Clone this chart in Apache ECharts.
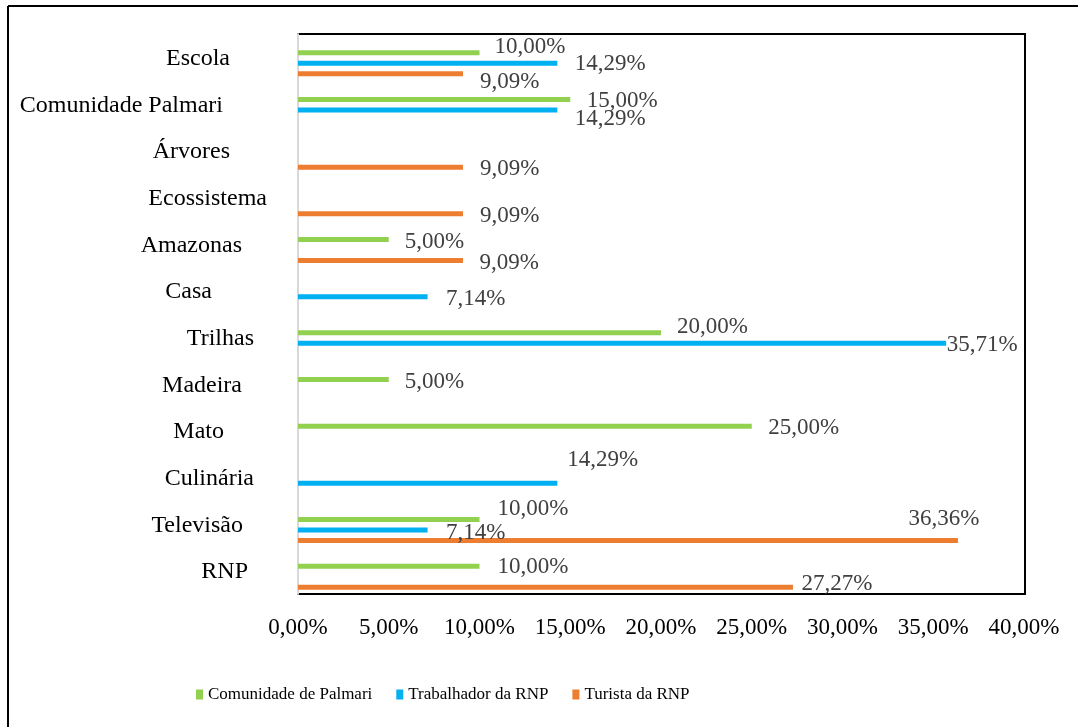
<!DOCTYPE html>
<html><head><meta charset="utf-8">
<script src="https://cdn.jsdelivr.net/npm/echarts@6/dist/echarts.min.js"></script>
<style>html,body{margin:0;padding:0;background:#fff}#c{width:1078px;height:727px}</style>
</head><body><div id="c"></div>
<script>
const categories = ['Escola','Comunidade Palmari','Árvores','Ecossistema','Amazonas','Casa','Trilhas','Madeira','Mato','Culinária','Televisão','RNP'];
const seriesNames = ['Comunidade de Palmari','Trabalhador da RNP','Turista da RNP'];
const comunidade = [10.00, 15.00, null, null, 5.00, null, 20.00, 5.00, 25.00, null, 10.00, 10.00];
const trabalhador = [14.29, 14.29, null, null, null, 7.14, 35.71, null, null, 14.29, 7.14, null];
const turista = [9.09, null, 9.09, 9.09, 9.09, null, null, null, null, null, 36.36, 27.27];
const xTicks = [0,5,10,15,20,25,30,35,40];

// layout only: label offsets [dx, dy] per series per category
const labelOffsets = [
  {0:[10,-6],1:[11.5,1],4:[11,2.5],6:[11,-5.5],7:[11,2.5],8:[11.5,2],10:[13,-11],11:[13,1]},
  {0:[12.5,1],1:[12.5,9],5:[13.5,2.5],6:[-4.5,2],9:[5,-23],10:[13.5,2.5]},
  {0:[12,8],2:[12,1.5],3:[12,2],4:[11.5,2],10:[-54.5,-22],11:[3.5,-3.5]}
];
// layout only: right padding for each category label
const catPad = [37,44,37,0,25,55,13,25,43,13,24,19];
const colors = ['#92d050','#00b0f0','#ed7d31'];
const fmt = v => v.toFixed(2).replace('.', ',') + '%';
const FONT = 'Liberation Serif';

const rich = {};
categories.forEach((c, i) => {
  rich['c' + i] = {fontFamily: FONT, fontSize: 24, color: '#000', padding: [3, catPad[i], 0, 0]};
});

const values = [comunidade, trabalhador, turista];
const series = values.map((arr, si) => ({
  name: seriesNames[si], type: 'bar', xAxisIndex: 0, yAxisIndex: 0,
  barWidth: 5, barGap: '110%', barCategoryGap: '0%',
  itemStyle: {color: colors[si]},
  data: arr.map((v, ci) => {
    if (v === null) return '-';
    const off = labelOffsets[si][ci] || [5, 0];
    return {value: v, label: {offset: off}};
  }),
  label: {show: true, position: 'right', distance: 5, formatter: p => fmt(p.value),
    color: '#404040', fontFamily: FONT, fontSize: 23},
  animation: false
}));

const chart = echarts.init(document.getElementById('c'));
chart.setOption({
  animation: false,
  backgroundColor: '#fff',
  grid: [
    {left: 298, top: 40, width: 726, height: 560},
    {left: 298, top: 34, width: 727, height: 560, show: true, borderColor: '#000', borderWidth: 2, z: 0}
  ],
  xAxis: [
    {gridIndex: 0, type: 'value', min: xTicks[0], max: xTicks[xTicks.length - 1], interval: xTicks[1] - xTicks[0],
     axisLine: {show: false}, axisTick: {show: false}, splitLine: {show: false},
     axisLabel: {formatter: v => fmt(v), fontFamily: FONT, fontSize: 23, color: '#000', margin: 16}},
    {gridIndex: 1, type: 'value', min: 0, max: 40, show: false}
  ],
  yAxis: [
    {gridIndex: 0, type: 'category', data: categories, inverse: true, show: false},
    {gridIndex: 1, type: 'category', data: categories, inverse: true,
     axisLine: {show: true, lineStyle: {color: '#d9d9d9', width: 2}},
     axisTick: {show: false},
     axisLabel: {margin: 31, formatter: (v, i) => '{c' + i + '|' + v + '}', rich: rich}}
  ],
  legend: {
    data: seriesNames, left: 191, top: 681, icon: 'rect', itemWidth: 7, itemHeight: 10, itemGap: 24,
    textStyle: {fontFamily: FONT, fontSize: 17, color: '#000'}
  },
  graphic: [
    {type: 'line', shape: {x1: 8, y1: 6, x2: 1078, y2: 6}, style: {stroke: '#000', lineWidth: 2}},
    {type: 'line', shape: {x1: 8, y1: 6, x2: 8, y2: 727}, style: {stroke: '#000', lineWidth: 2}}
  ],
  series: series
});
</script></body></html>
